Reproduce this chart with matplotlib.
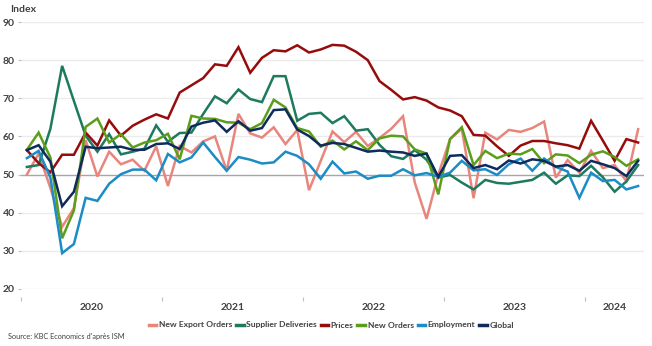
import numpy as np
import matplotlib.pyplot as plt

# monthly data, Jan 2020 - May 2024
export_orders = [50, 55.5, 46.5, 36.3, 41.2, 59, 49.5, 56, 52.7, 53.9, 51, 57.4,
                 47, 57.5, 55.8, 58.7, 60, 51, 65.9, 60.8, 59.7, 62.4, 58, 61.7,
                 45.9, 53.6, 61.3, 58.5, 61.2, 57.5, 59.6, 62, 65.3, 47.9, 38.4, 50,
                 59.3, 62, 43.8, 61, 59.2, 61.7, 61.2, 62.2, 63.9, 49.2, 53.8, 50.5,
                 56.2, 51.7, 52.5, 48.3, 61.9]
supplier_deliv = [52, 52.5, 62, 78.5, 69.3, 60.2, 56, 60.6, 55.3, 56, 56.8, 62.9,
                  58.6, 60.9, 61, 65.9, 70.5, 68.7, 72.3, 69.8, 69, 75.8, 75.8, 64.1,
                  65.9, 66.2, 63.5, 65.3, 61.5, 61.9, 57.8, 54.8, 54.1, 56.4, 53.9, 49.2,
                  49.9, 47.9, 46.1, 48.6, 47.8, 47.6, 48.1, 48.6, 50.5, 47.6, 49.8, 49.6,
                  52.3, 49.3, 45.5, 48.2, 52.5]
prices = [56.4, 53, 50.6, 55.2, 55.2, 61, 57.6, 64.2, 60.2, 62.8, 64.4, 65.8,
          64.7, 71.5, 73.4, 75.3, 78.9, 78.5, 83.4, 76.7, 80.6, 82.6, 82.3, 83.9,
          82, 82.8, 84, 83.8, 82.2, 80, 74.5, 72.2, 69.7, 70.3, 69.4, 67.6,
          66.8, 65.3, 60.4, 60.2, 57.4, 54.9, 57.6, 58.8, 58.8, 58.2, 57.7, 56.8,
          64.1, 58.9, 53.6, 59.3, 58.4]
new_orders = [56.5, 61, 54.5, 33.3, 40.6, 62.5, 64.7, 58.4, 60.6, 57.1, 58.4, 59,
              60.7, 54, 65.4, 64.7, 64.6, 63.7, 63.6, 61.9, 63.5, 69.6, 67.6, 62.2,
              61.3, 57.3, 58.9, 56.6, 58.7, 56.4, 59.5, 60.2, 60, 56.6, 55.5, 44.8,
              59.3, 62.4, 52.5, 56.2, 54.3, 55.5, 55.3, 56.7, 53, 55.3, 55, 53,
              55.2, 56.1, 54.6, 52.3, 54]
employment = [54.3, 56.2, 49.2, 29.4, 31.8, 43.9, 43.1, 47.6, 50.1, 51.3, 51.3, 48.5,
              55.4, 53.2, 54.5, 58.4, 54.6, 51, 54.6, 53.9, 52.9, 53.2, 56, 54.9,
              52.7, 48.9, 53.4, 50.3, 50.8, 48.9, 49.7, 49.7, 51.4, 49.8, 50.4, 49.4,
              50.5, 53.6, 51.1, 51.4, 49.9, 52.7, 54.2, 51, 54.2, 52, 50.8, 43.9,
              50.5, 48.3, 48.6, 46.1, 47]
global_idx = [56.4, 57.7, 53.4, 41.7, 45.5, 57.3, 56.9, 57.1, 57.3, 56.5, 56.5, 58,
              58.2, 56.7, 62.6, 63.6, 64.2, 61.2, 64, 61.5, 62.2, 66.9, 67.1, 61.8,
              60.1, 57.6, 58.3, 58, 57, 56, 56.3, 56, 55.8, 54.9, 55.5, 49.4,
              54.9, 55.1, 51.7, 52.5, 51.4, 53.7, 52.9, 54, 53.6, 52.1, 52.5, 51,
              53.6, 52.7, 51.7, 49.6, 53.6]
years = ['2020', '2021', '2022', '2023', '2024']

names = ['New Export Orders', 'Supplier Deliveries', 'Prices', 'New Orders', 'Employment', 'Global']
series = [export_orders, supplier_deliv, prices, new_orders, employment, global_idx]
colors = ['#e8867d', '#1d7a5f', '#960c0c', '#5a9e1b', '#1b8cc6', '#0e2b5c']

plt.rcParams['font.family'] = ['Lato', 'DejaVu Sans']

fig = plt.figure(figsize=(6.52, 3.46), dpi=100)
ax = fig.add_axes([21/652, 1-289/346, 623/652, 267/346])

n = len(global_idx)
x = np.arange(n)
for s, c, lab in zip(series, colors, names):
    ax.plot(x, s, color=c, lw=1.8, label=lab, solid_joinstyle='miter')

ax.set_xlim(-0.5, n - 0.5)
ax.set_ylim(20, 90)

# gridlines
for v in range(20, 91, 10):
    if v == 50:
        ax.axhline(v, color='#a6a6a6', lw=1.0, zorder=0.5)
    else:
        ax.axhline(v, color='#ebebeb', lw=1.0, zorder=0)

for sp in ax.spines.values():
    sp.set_visible(False)

ax.set_yticks(range(20, 91, 10))
ax.tick_params(axis='y', length=2.5, color='#bfbfbf', pad=2, labelsize=7.5,
               labelcolor='#404040')
for t in ax.get_yticklabels():
    t.set_fontweight('bold')

# year ticks at category boundaries, labels in the middle
ax.spines['bottom'].set_position(('outward', 6))
ax.set_xticks(np.arange(-0.5, n, 12))
ax.set_xticklabels([])
ax.tick_params(axis='x', which='major', length=3, color='#bfbfbf')
centers = [5.5, 17.5, 29.5, 41.5, 50]
ax.set_xticks(centers, minor=True)
ax.set_xticklabels(years, minor=True)
ax.tick_params(axis='x', which='minor', length=0, pad=4, labelsize=7.5,
               labelcolor='#404040')
for t in ax.get_xticklabels(minor=True):
    t.set_fontweight('bold')

fig.text(10/652, 1-10/346, 'Index', fontsize=7.5, fontweight='bold',
         color='#404040', va='center', ha='left')

leg = fig.legend(loc='center', bbox_to_anchor=(0.508, 1-325/346), ncol=6,
                 frameon=False, fontsize=6.1, handlelength=0.9, handletextpad=0.3,
                 columnspacing=0.45)
for t in leg.get_texts():
    t.set_fontweight('bold')
    t.set_color('#404040')
for h in leg.get_lines():
    h.set_linewidth(2.5)

fig.text(8/652, 1-336/346, "Source: KBC Economics d'après ISM", fontsize=5.3,
         color='#404040', va='center', ha='left')

fig.savefig('out.png', dpi=100)
